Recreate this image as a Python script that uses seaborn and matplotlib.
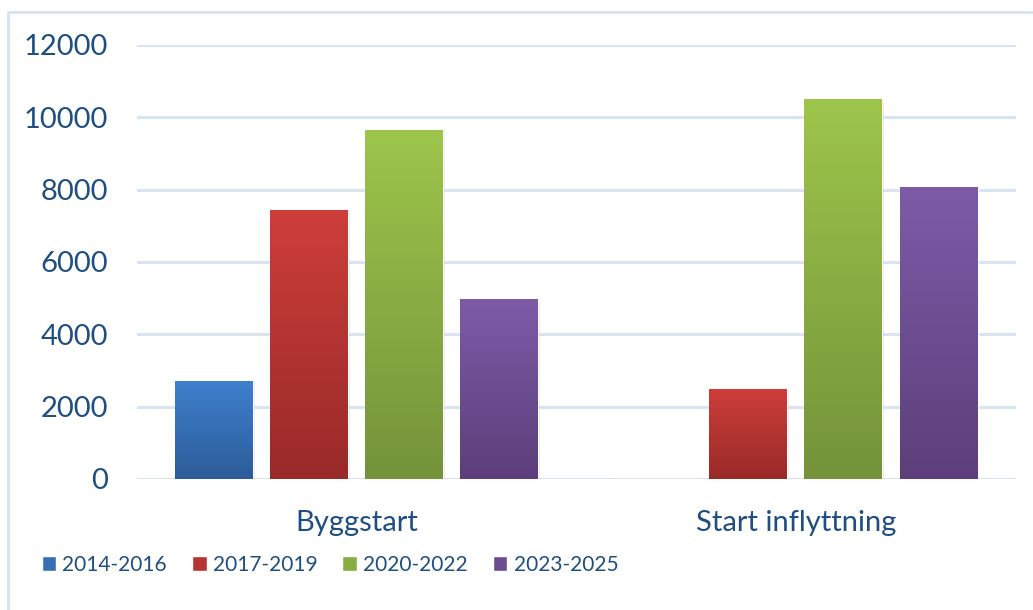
import numpy as np
import pandas as pd
import matplotlib
matplotlib.use("Agg")
import matplotlib.pyplot as plt
import matplotlib.colors as mcolors
from matplotlib.patches import Rectangle
import seaborn as sns

categories = ["Byggstart", "Start inflyttning"]
periods = ["2014-2016", "2017-2019", "2020-2022", "2023-2025"]
values_2014_2016 = [2710, 0]
values_2017_2019 = [7440, 2490]
values_2020_2022 = [9650, 10500]
values_2023_2025 = [4980, 8070]
yticks = [0, 2000, 4000, 6000, 8000, 10000, 12000]

top_colors = ["#3F80CE", "#CE3E3B", "#9EC54B", "#7E5BA8"]
bottom_colors = ["#2B5C98", "#982A28", "#74933A", "#5C3F7A"]
mid_colors = ["#3570B5", "#B53533", "#89AD42", "#6D4D91"]
text_color = "#1F4E83"

rows = []
for p, vals in zip(periods, [values_2014_2016, values_2017_2019, values_2020_2022, values_2023_2025]):
    for c, v in zip(categories, vals):
        rows.append({"category": c, "period": p, "value": v})
df = pd.DataFrame(rows)

sns.set_theme(style="white")
plt.rcParams["font.family"] = ["Lato", "DejaVu Sans"]

fig = plt.figure(figsize=(10.33, 6.10), dpi=100)
ax = fig.add_axes([0.1326, 0.2148, 0.8505, 0.7115])

sns.barplot(data=df, x="category", y="value", hue="period", hue_order=periods,
            palette=mid_colors, width=0.866, gap=0.18, saturation=1, ax=ax,
            legend=True, errorbar=None, zorder=3)

ax.set_ylim(0, 12000)
ax.set_xlim(-0.5, 1.5)
ax.set_yticks(yticks)
ax.set_yticklabels([str(t) for t in yticks])
ax.yaxis.grid(True, color="#D9E3F1", linewidth=2.2, zorder=0)
ax.set_axisbelow(True)
for s in ax.spines.values():
    s.set_visible(False)
ax.set_xlabel("")
ax.set_ylabel("")
ax.tick_params(axis="y", length=0, pad=21, labelsize=21, labelcolor=text_color)
ax.tick_params(axis="x", length=0, pad=22, labelsize=21, labelcolor=text_color)

# gradient fill on bars
for i, cont in enumerate(ax.containers):
    cmap = mcolors.LinearSegmentedColormap.from_list("g%d" % i, [bottom_colors[i], top_colors[i]])
    grad = np.linspace(0, 1, 256).reshape(-1, 1)
    for bar in cont:
        h = bar.get_height()
        if h <= 0:
            continue
        x0 = bar.get_x(); w = bar.get_width()
        sh = Rectangle((x0 + 0.004, -80), w, h + 60, facecolor="#000000", alpha=0.08,
                       edgecolor="none", zorder=2.5)
        ax.add_patch(sh)
        im = ax.imshow(grad, cmap=cmap, aspect="auto", origin="lower",
                       extent=[x0, x0 + w, 0, h], zorder=4, interpolation="bilinear")
        im.set_clip_path(bar)
ax.set_xlim(-0.5, 1.5)
ax.set_ylim(0, 12000)

leg = ax.legend(loc="upper left", bbox_to_anchor=(-0.13, -0.132), ncol=4, frameon=False,
                fontsize=15, handlelength=0.7, handleheight=0.7, handletextpad=0.3,
                columnspacing=1.2, labelcolor=text_color)

# chart frame (top and left visible)
fig.add_artist(plt.Line2D([8/1033, 8/1033], [0, 1 - 12/610], transform=fig.transFigure,
                          color="#D6E3F3", linewidth=2))
fig.add_artist(plt.Line2D([8/1033, 1], [1 - 12/610, 1 - 12/610], transform=fig.transFigure,
                          color="#D6E3F3", linewidth=2))

fig.savefig("out.png", dpi=100, facecolor="white")
